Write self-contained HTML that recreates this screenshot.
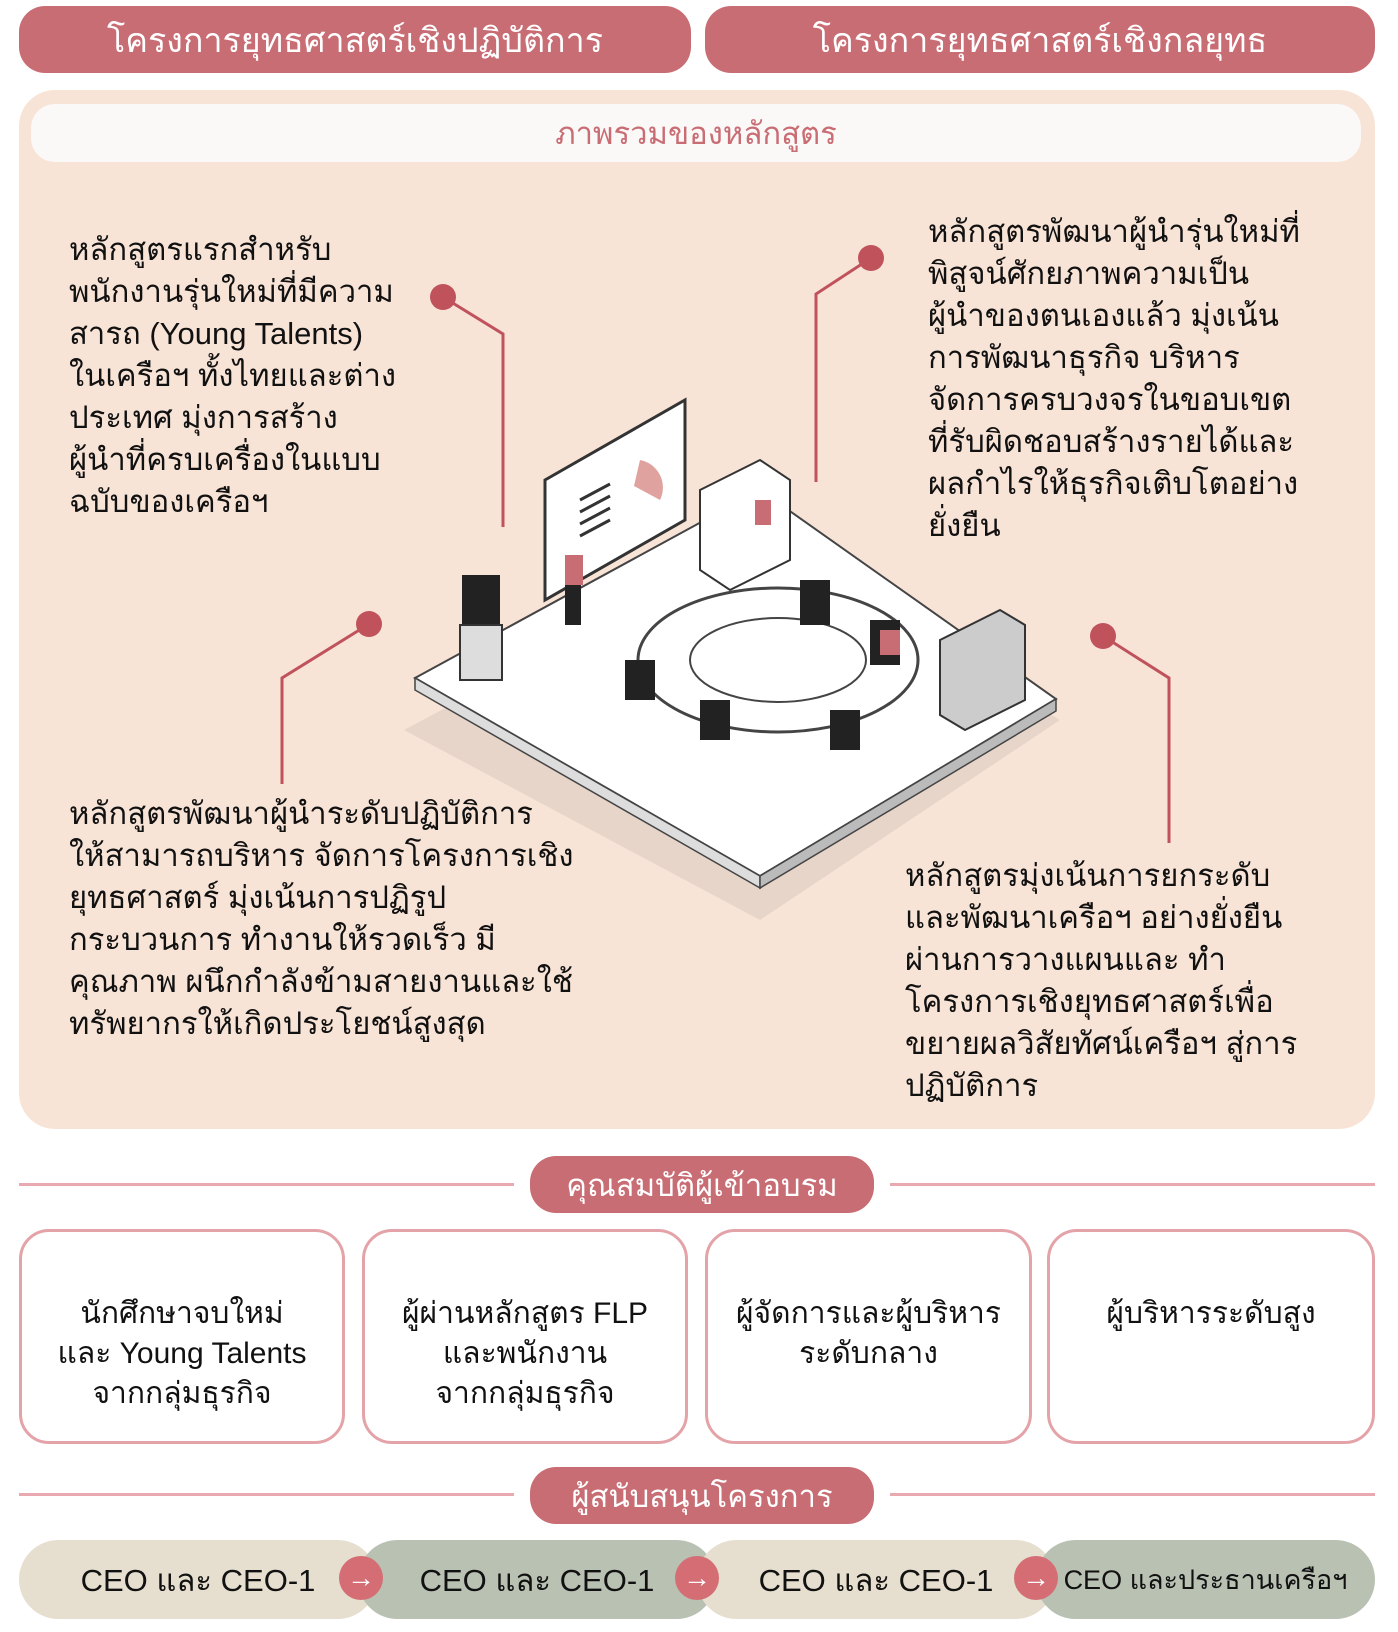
<!DOCTYPE html>
<html><head><meta charset="utf-8"><style>
*{margin:0;padding:0;box-sizing:border-box}
body{width:1398px;height:1632px;background:#fff;position:relative;font-family:"Liberation Sans","Noto Sans CJK SC",sans-serif;color:#111;overflow:hidden}
.a{position:absolute}
.pill{background:#c96d74;color:#fff;border-radius:26px;display:flex;align-items:center;justify-content:center;font-size:34px}
.t{font-size:31px;line-height:42px}
.box{border:3px solid #e3a3a8;border-radius:30px;background:#fff;display:flex;justify-content:center;text-align:center;font-size:30px;line-height:40px;padding-top:62px}
.sp{display:flex;align-items:center;justify-content:center;font-size:31px}
.line{height:3px;background:#e8aab0}
.arr{width:44px;height:44px;border-radius:50%;background:#d46e74;color:#fff;font-size:28px;display:flex;align-items:center;justify-content:center}
</style></head><body>
<div class="a pill" style="left:19px;top:6px;width:672px;height:67px">โครงการยุทธศาสตร์เชิงปฏิบัติการ</div>
<div class="a pill" style="left:705px;top:6px;width:670px;height:67px">โครงการยุทธศาสตร์เชิงกลยุทธ</div>
<div class="a" style="left:19px;top:90px;width:1356px;height:1039px;background:#f8e4d7;border-radius:36px"></div>
<div class="a" style="left:31px;top:104px;width:1330px;height:58px;background:#fbf8f8;border-radius:24px;color:#c96d74;font-size:31px;display:flex;align-items:center;justify-content:center">ภาพรวมของหลักสูตร</div>

<svg class="a" style="left:0;top:0" width="1398" height="1632">
<g stroke="#c0525c" stroke-width="3" fill="none">
<polyline points="443,297 503,334 503,527"/>
<polyline points="871,258 816,294 816,482"/>
<polyline points="369,624 282,678 282,784"/>
<polyline points="1103,636 1169,678 1169,843"/>
</g>
<g fill="#c0525c"><circle cx="443" cy="297" r="13"/><circle cx="871" cy="258" r="13"/><circle cx="369" cy="624" r="13"/><circle cx="1103" cy="636" r="13"/></g>
<polygon points="404,730 760,540 1060,720 760,920" fill="#e7d5c9"/>
<polygon points="415,678 760,490 1056,699 760,876" fill="#fff" stroke="#444" stroke-width="2"/>
<polygon points="415,678 760,876 760,888 415,690" fill="#ddd" stroke="#444" stroke-width="1.5"/>
<polygon points="760,876 1056,699 1056,711 760,888" fill="#bbb" stroke="#444" stroke-width="1.5"/>
<ellipse cx="778" cy="660" rx="140" ry="72" fill="#fff" stroke="#444" stroke-width="3"/>
<ellipse cx="778" cy="660" rx="88" ry="42" fill="#fff" stroke="#444" stroke-width="2"/>
<polygon points="545,480 685,400 685,520 545,600" fill="#fff" stroke="#333" stroke-width="3"/>
<path d="M640,460 a28,28 0 0 1 20,40 l-26,-14z" fill="#e0a29f"/>
<g stroke="#333" stroke-width="3"><line x1="580" y1="500" x2="610" y2="484"/><line x1="580" y1="512" x2="610" y2="496"/><line x1="580" y1="524" x2="610" y2="508"/><line x1="580" y1="536" x2="610" y2="520"/></g>
<polygon points="700,490 760,460 790,480 790,560 730,590 700,570" fill="#fff" stroke="#333" stroke-width="2"/>
<polygon points="940,640 1000,610 1025,625 1025,700 965,730 940,715" fill="#ccc" stroke="#333" stroke-width="2"/>
<rect x="462" y="575" width="38" height="50" fill="#222"/><rect x="460" y="625" width="42" height="55" fill="#ddd" stroke="#333" stroke-width="2"/>
<g fill="#222"><rect x="565" y="560" width="16" height="65"/><rect x="625" y="660" width="30" height="40"/><rect x="700" y="700" width="30" height="40"/><rect x="830" y="710" width="30" height="40"/><rect x="870" y="620" width="30" height="45"/><rect x="800" y="580" width="30" height="45"/></g>
<g fill="#c96d74"><rect x="565" y="555" width="18" height="30"/><rect x="880" y="630" width="20" height="25"/><rect x="755" y="500" width="16" height="25"/></g>
</svg>

<div class="a t" style="left:69px;top:229px">หลักสูตรแรกสำหรับ<br>พนักงานรุ่นใหม่ที่มีความ<br>สารถ (Young Talents)<br>ในเครือฯ ทั้งไทยและต่าง<br>ประเทศ มุ่งการสร้าง<br>ผู้นำที่ครบเครื่องในแบบ<br>ฉบับของเครือฯ</div>
<div class="a t" style="left:928px;top:211px">หลักสูตรพัฒนาผู้นำรุ่นใหม่ที่<br>พิสูจน์ศักยภาพความเป็น<br>ผู้นำของตนเองแล้ว มุ่งเน้น<br>การพัฒนาธุรกิจ บริหาร<br>จัดการครบวงจรในขอบเขต<br>ที่รับผิดชอบสร้างรายได้และ<br>ผลกำไรให้ธุรกิจเติบโตอย่าง<br>ยั่งยืน</div>
<div class="a t" style="left:69px;top:793px">หลักสูตรพัฒนาผู้นำระดับปฏิบัติการ<br>ให้สามารถบริหาร จัดการโครงการเชิง<br>ยุทธศาสตร์ มุ่งเน้นการปฏิรูป<br>กระบวนการ ทำงานให้รวดเร็ว มี<br>คุณภาพ ผนึกกำลังข้ามสายงานและใช้<br>ทรัพยากรให้เกิดประโยชน์สูงสุด</div>
<div class="a t" style="left:905px;top:855px">หลักสูตรมุ่งเน้นการยกระดับ<br>และพัฒนาเครือฯ อย่างยั่งยืน<br>ผ่านการวางแผนและ ทำ<br>โครงการเชิงยุทธศาสตร์เพื่อ<br>ขยายผลวิสัยทัศน์เครือฯ สู่การ<br>ปฏิบัติการ</div>

<div class="a line" style="left:19px;top:1183px;width:495px"></div>
<div class="a line" style="left:890px;top:1183px;width:485px"></div>
<div class="a pill" style="left:530px;top:1156px;width:344px;height:57px;font-size:31px">คุณสมบัติผู้เข้าอบรม</div>

<div class="a box" style="left:19px;top:1229px;width:326px;height:215px">นักศึกษาจบใหม่<br>และ Young Talents<br>จากกลุ่มธุรกิจ</div>
<div class="a box" style="left:362px;top:1229px;width:326px;height:215px">ผู้ผ่านหลักสูตร FLP<br>และพนักงาน<br>จากกลุ่มธุรกิจ</div>
<div class="a box" style="left:705px;top:1229px;width:327px;height:215px">ผู้จัดการและผู้บริหาร<br>ระดับกลาง</div>
<div class="a box" style="left:1047px;top:1229px;width:328px;height:215px">ผู้บริหารระดับสูง</div>

<div class="a line" style="left:19px;top:1493px;width:495px"></div>
<div class="a line" style="left:890px;top:1493px;width:485px"></div>
<div class="a pill" style="left:530px;top:1467px;width:344px;height:57px;font-size:31px">ผู้สนับสนุนโครงการ</div>

<div class="a sp" style="left:19px;top:1540px;width:358px;height:79px;background:#e6dece;border-radius:40px">CEO และ CEO-1</div>
<div class="a sp" style="left:358px;top:1540px;width:358px;height:79px;background:#b9c1b3;border-radius:40px">CEO และ CEO-1</div>
<div class="a sp" style="left:697px;top:1540px;width:358px;height:79px;background:#e6dece;border-radius:40px">CEO และ CEO-1</div>
<div class="a sp" style="left:1036px;top:1540px;width:339px;height:79px;background:#b9c1b3;border-radius:40px;font-size:27px">CEO และประธานเครือฯ</div>
<div class="a arr" style="left:339px;top:1556px">→</div>
<div class="a arr" style="left:675px;top:1556px">→</div>
<div class="a arr" style="left:1014px;top:1556px">→</div>
</body></html>
